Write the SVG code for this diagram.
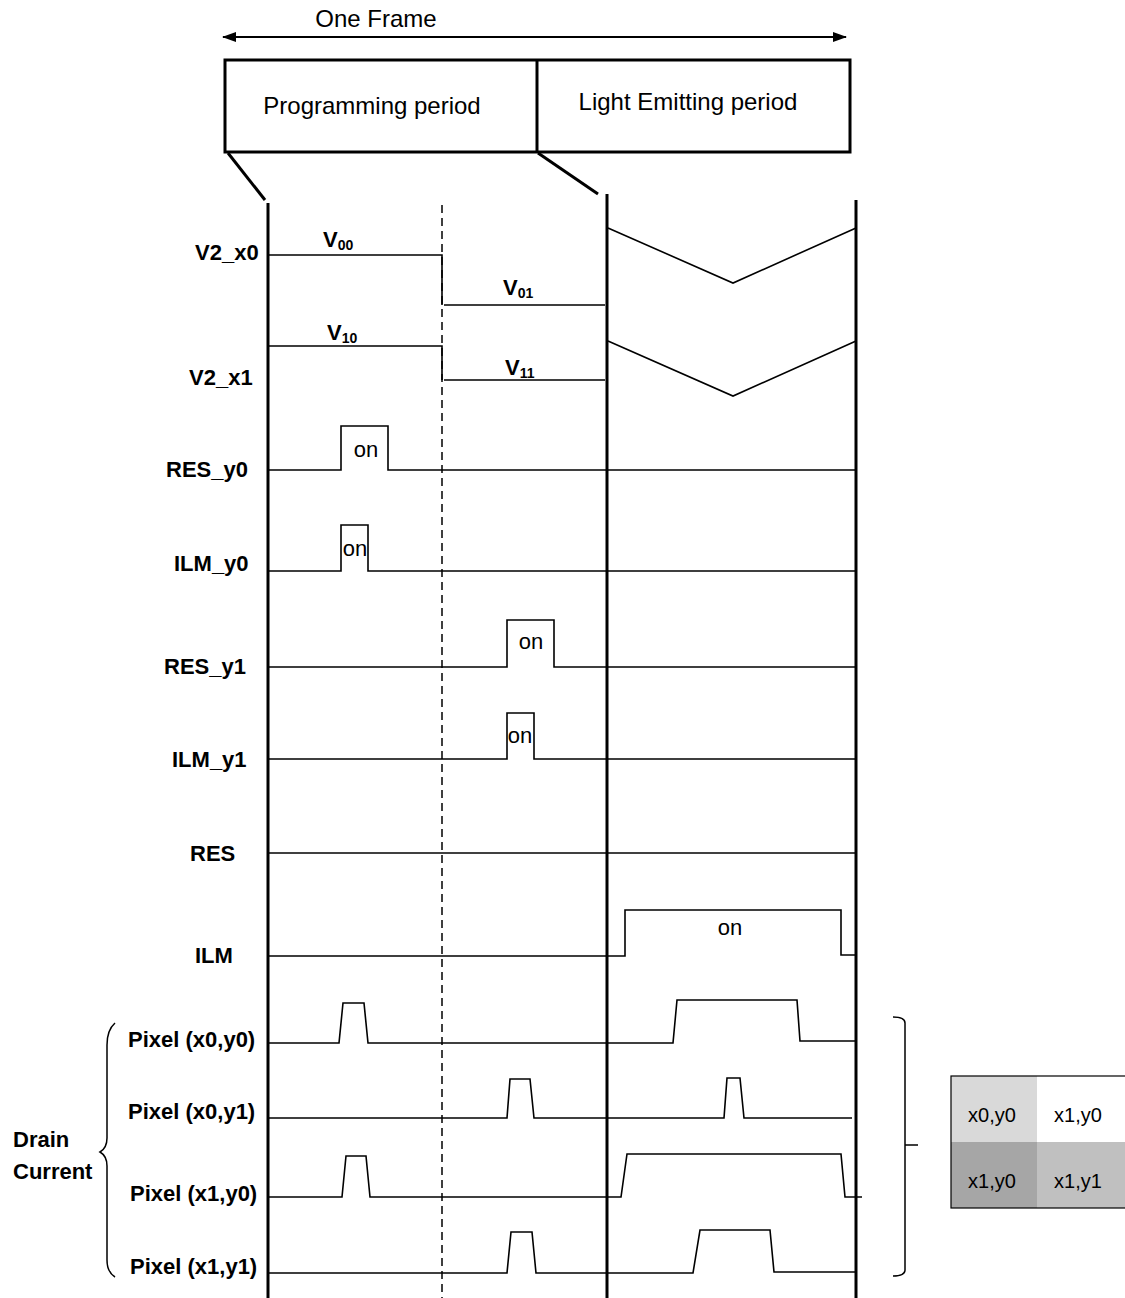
<svg xmlns="http://www.w3.org/2000/svg" width="1125" height="1298" viewBox="0 0 1125 1298">
<style>
.frame{stroke:#000;stroke-width:3;fill:none}
.wave{stroke:#000;stroke-width:1.6;fill:none}
.thin{stroke:#000;stroke-width:1.5;fill:none}
.lbl{font-family:"Liberation Sans",Arial,sans-serif;font-weight:bold;font-size:22px;fill:#000}
.txt{font-family:"Liberation Sans",Arial,sans-serif;font-size:24px;fill:#000}
.on{font-family:"Liberation Sans",Arial,sans-serif;font-size:22px;fill:#000;text-anchor:middle}
.cell{font-family:"Liberation Sans",Arial,sans-serif;font-size:20px;fill:#000;text-anchor:middle}
.vl{font-family:"Liberation Sans",Arial,sans-serif;font-weight:bold;font-size:22px;fill:#000}
</style>
<defs>
<marker id="ah" viewBox="0 0 14 10" refX="13" refY="5" markerWidth="14" markerHeight="10" markerUnits="userSpaceOnUse" orient="auto-start-reverse">
<path d="M0,0 L14,5 L0,10 Z" fill="#000"/>
</marker>
</defs>
<rect width="1125" height="1298" fill="#fff"/>

<g id="frame-header">
<text class="txt" x="376" y="27" text-anchor="middle">One Frame</text>
<line x1="223" y1="37" x2="846" y2="37" stroke="#000" stroke-width="1.8" marker-start="url(#ah)" marker-end="url(#ah)"/>
<rect class="frame" x="225" y="60" width="625" height="92"/>
<line class="frame" x1="537" y1="60" x2="537" y2="152"/>
<text class="txt" x="372" y="114" text-anchor="middle">Programming  period</text>
<text class="txt" x="688" y="110" text-anchor="middle">Light Emitting period</text>
</g>

<g id="connectors">
<line class="frame" x1="228" y1="153" x2="265" y2="200"/>
<line class="frame" x1="538" y1="153" x2="598" y2="194"/>
<line class="frame" x1="268" y1="203" x2="268" y2="1298"/>
<line class="frame" x1="607" y1="194" x2="607" y2="1298"/>
<line class="frame" x1="856" y1="200" x2="856" y2="1298"/>
<line x1="442" y1="205" x2="442" y2="1298" stroke="#000" stroke-width="1.5" stroke-dasharray="8,5"/>
</g>

<g id="V2_x0">
<text class="lbl" x="195" y="260">V2_x0</text>
<path class="wave" d="M268,255 H442 V305 M444,305 H605"/>
<path class="wave" d="M608,228 L733,283 L856,228"/>
<text class="vl" x="323" y="247">V<tspan font-size="14" dy="3">00</tspan></text>
<text class="vl" x="503" y="295">V<tspan font-size="14" dy="3">01</tspan></text>
</g>

<g id="V2_x1">
<text class="lbl" x="189" y="385">V2_x1</text>
<path class="wave" d="M268,346 H442 V380 M444,380 H605"/>
<path class="wave" d="M608,341 L733,396 L856,341"/>
<text class="vl" x="327" y="340">V<tspan font-size="14" dy="3">10</tspan></text>
<text class="vl" x="505" y="375">V<tspan font-size="14" dy="3">11</tspan></text>
</g>

<g id="RES_y0">
<text class="lbl" x="166" y="477">RES_y0</text>
<path class="wave" d="M268,470 H341 V426 H388 V470 H856"/>
<text class="on" x="366" y="457">on</text>
</g>

<g id="ILM_y0">
<text class="lbl" x="174" y="571">ILM_y0</text>
<path class="wave" d="M268,571 H341 V525 H368 V571 H856"/>
<text class="on" x="355" y="556">on</text>
</g>

<g id="RES_y1">
<text class="lbl" x="164" y="674">RES_y1</text>
<path class="wave" d="M268,667 H507 V620 H554 V667 H856"/>
<text class="on" x="531" y="649">on</text>
</g>

<g id="ILM_y1">
<text class="lbl" x="172" y="767">ILM_y1</text>
<path class="wave" d="M268,759 H507 V713 H534 V759 H856"/>
<text class="on" x="520" y="743">on</text>
</g>

<g id="RES">
<text class="lbl" x="190" y="861">RES</text>
<path class="wave" d="M268,853 H856"/>
</g>

<g id="ILM">
<text class="lbl" x="195" y="963">ILM</text>
<path class="wave" d="M268,956 H625 V910 H841 V955 H856"/>
<text class="on" x="730" y="935">on</text>
</g>

<g id="Pixel_x0_y0">
<text class="lbl" x="128" y="1047">Pixel (x0,y0)</text>
<path class="wave" d="M268,1043 H339 L343,1003 H364 L368,1043 H673 L677,1000 H797 L800,1041 H856"/>
</g>

<g id="Pixel_x0_y1">
<text class="lbl" x="128" y="1119">Pixel (x0,y1)</text>
<path class="wave" d="M268,1118 H507 L510,1079 H530 L534,1118 H724 L727,1078 H740 L744,1118 H852"/>
</g>

<g id="Pixel_x1_y0">
<text class="lbl" x="130" y="1201">Pixel (x1,y0)</text>
<path class="wave" d="M268,1197 H342 L346,1156 H366 L370,1197 H621 L627,1154 H841 L845,1197 H862"/>
</g>

<g id="Pixel_x1_y1">
<text class="lbl" x="130" y="1274">Pixel (x1,y1)</text>
<path class="wave" d="M268,1273 H507 L511,1232 H532 L536,1273 H693 L700,1230 H770 L774,1272 H856"/>
</g>

<g id="drain-current">
<text class="lbl" x="13" y="1147">Drain</text>
<text class="lbl" x="13" y="1179">Current</text>
<path class="thin" d="M115,1023 Q107,1030 107,1045 V1138 Q107,1148 100,1152 Q107,1156 107,1166 V1260 Q107,1272 115,1277"/>
</g>

<g id="right-bracket">
<path class="thin" d="M893,1017 Q905,1017 905,1023 V1270 Q905,1276 893,1276 M905,1145 H918"/>
</g>

<g id="pixel-grid">
<rect x="951" y="1076" width="86" height="66" fill="#d9d9d9"/>
<rect x="1037" y="1076" width="88" height="66" fill="#ffffff"/>
<rect x="951" y="1142" width="86" height="66" fill="#a6a6a6"/>
<rect x="1037" y="1142" width="88" height="66" fill="#c0c0c0"/>
<rect x="951" y="1076" width="180" height="132" fill="none" stroke="#000" stroke-width="1.2"/>
<text class="cell" x="992" y="1122">x0,y0</text>
<text class="cell" x="1078" y="1122">x1,y0</text>
<text class="cell" x="992" y="1188">x1,y0</text>
<text class="cell" x="1078" y="1188">x1,y1</text>
</g>
</svg>
